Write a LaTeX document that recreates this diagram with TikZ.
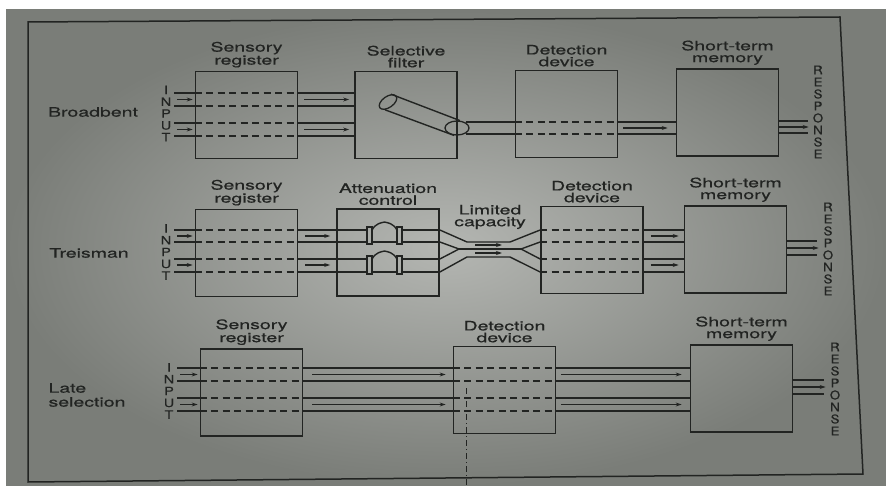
\documentclass[tikz,border=0pt]{standalone}
\usepackage{fontspec}
\setmainfont{TeX Gyre Heros}[FakeStretch=1.5,FakeBold=0.6]
\newfontfamily\inputfont{TeX Gyre Heros}[FakeStretch=1.25,FakeBold=0.6]
\newfontfamily\respfont{TeX Gyre Heros}[FakeStretch=1.1,FakeBold=0.6]
\usetikzlibrary{positioning,arrows.meta,shapes.geometric}

\definecolor{ink}{RGB}{34,36,34}
\definecolor{paperlight}{RGB}{180,182,178}
\definecolor{paperdark}{RGB}{122,125,120}

\tikzset{
  stage/.style={draw=ink, line width=1.7pt, minimum width=102pt, minimum height=87pt, inner sep=0pt},
  heading/.style={font=\fontsize{13}{11.8}\selectfont, align=center, text=ink, inner sep=1pt},
  side/.style={font=\fontsize{13}{14}\selectfont, align=left, text=ink},
  letters/.style={font=\inputfont\fontsize{11.5}{11.8}\selectfont, align=center, text=ink, inner sep=0pt},
  resp/.style={font=\respfont\fontsize{12}{12}\selectfont, align=center, text=ink, inner sep=0pt},
  lane/.style={draw=ink, line width=1.4pt},
  held/.style={draw=ink, line width=1.4pt, dash pattern=on 7pt off 4.5pt},
  flow/.style={draw=ink, line width=1.1pt, -{Stealth[length=6pt,width=4pt]}},
}

\begin{document}
\begin{tikzpicture}[x=1pt, y=-1pt]
  \useasboundingbox (0,0) rectangle (886,486);
  \fill[white] (0,0) rectangle (886,486);
  \shade[inner color=paperlight, outer color=paperdark] (6,10) rectangle (886,486);
  \coordinate (tl) at (28,22);
  \coordinate (tr) at (840,17);
  \coordinate (br) at (863,474);
  \coordinate (bl) at (28,482);
  \draw[ink, line width=1.5pt] (tl) -- (tr) -- (br) -- (bl) -- cycle;

  % Broadbent
  \node[side] (b-name) at (93,112) {Broadbent};
  \node[letters] (b-in) at (166,113.5) {I\\N\\P\\U\\T};
  \node[stage] (b-sr) at (246.5,115) {};
  \node[stage] (b-sf) at (406,115) {};
  \node[stage] (b-dd) at (566.5,114) {};
  \node[stage] (b-stm) at (727.5,112.5) {};
  \node[heading, above=2pt of b-sr] (b-sr-t) {Sensory\\register};
  \node[heading, above=2pt of b-sf] (b-sf-t) {Selective\\filter};
  \node[heading, above=2pt of b-dd] (b-dd-t) {Detection\\device};
  \node[heading, above=2pt of b-stm] (b-stm-t) {Short-term\\memory};
  \node[resp] (b-out) at (818,112) {R\\E\\S\\P\\O\\N\\S\\E};
  \foreach \y in {93,106,123,136} {
    \draw[lane] ([xshift=3pt]b-in.east |- 0,\y) -- (b-sr.west |- 0,\y);
    \draw[held] (b-sr.west |- 0,\y) -- (b-sr.east |- 0,\y);
    \draw[lane] (b-sr.east |- 0,\y) -- (b-sf.west |- 0,\y);
  }
  \foreach \y in {99.5,129.5} {
    \draw[flow] ([xshift=6pt]b-in.east |- 0,\y) -- ([xshift=-2pt]b-sr.west |- 0,\y);
    \draw[flow] ([xshift=6pt]b-sr.east |- 0,\y) -- ([xshift=-5pt]b-sf.west |- 0,\y);
  }
  \node[draw=ink, line width=1.3pt, ellipse, minimum width=20pt, minimum height=11pt,
        inner sep=0pt, rotate=35] (b-cap) at (388,102) {};
  \node[draw=ink, line width=1.3pt, ellipse, minimum width=24pt, minimum height=14pt,
        inner sep=0pt] (b-exit) at (457,128) {};
  \draw[lane] (b-cap.34) -- (b-exit.69);
  \draw[lane] (b-cap.-146) -- (b-exit.-111);
  \foreach \y in {122,134} {
    \draw[lane] ([xshift=-4pt]b-exit.east |- 0,\y) -- (b-dd.west |- 0,\y);
    \draw[held] (b-dd.west |- 0,\y) -- (b-dd.east |- 0,\y);
    \draw[lane] (b-dd.east |- 0,\y) -- (b-stm.west |- 0,\y);
  }
  \draw[flow] ([xshift=5pt]b-dd.east |- 0,128) -- ([xshift=-8pt]b-stm.west |- 0,128);
  \foreach \y in {121,133}
    \draw[lane] (b-stm.east |- 0,\y) -- ([xshift=-5pt]b-out.west |- 0,\y);
  \draw[flow] (b-stm.east |- 0,127) -- ([xshift=-4pt]b-out.west |- 0,127);

  % Treisman
  \node[side] (t-name) at (89,253) {Treisman};
  \node[letters] (t-in) at (166,252) {I\\N\\P\\U\\T};
  \node[stage] (t-sr) at (246.5,253) {};
  \node[stage] (t-ac) at (388,252.5) {};
  \node[stage] (t-dd) at (592,250) {};
  \node[stage] (t-stm) at (735.5,249.5) {};
  \node[heading, above=2pt of t-sr] (t-sr-t) {Sensory\\register};
  \node[heading, above=2pt of t-ac] (t-ac-t) {Attenuation\\control};
  \node[heading] (t-lc) at (490,217) {Limited\\capacity};
  \node[heading, above=2pt of t-dd] (t-dd-t) {Detection\\device};
  \node[heading, above=2pt of t-stm] (t-stm-t) {Short-term\\memory};
  \node[resp] (t-out) at (828,249) {R\\E\\S\\P\\O\\N\\S\\E};
  \foreach \y in {230,242,259,272} {
    \draw[lane] ([xshift=3pt]t-in.east |- 0,\y) -- (t-sr.west |- 0,\y);
    \draw[held] (t-sr.west |- 0,\y) -- (t-sr.east |- 0,\y);
    \draw[lane] (t-sr.east |- 0,\y) -- (t-ac.west |- 0,\y);
    \draw[held] (t-dd.west |- 0,\y) -- (t-dd.east |- 0,\y);
    \draw[lane] (t-dd.east |- 0,\y) -- (t-stm.west |- 0,\y);
  }
  \foreach \y in {236,265} {
    \draw[flow] ([xshift=6pt]t-in.east |- 0,\y) -- ([xshift=-2pt]t-sr.west |- 0,\y);
    \draw[flow] ([xshift=7pt]t-sr.east |- 0,\y) -- ([xshift=-6pt]t-ac.west |- 0,\y);
    \draw[flow] ([xshift=7pt]t-dd.east |- 0,\y) -- ([xshift=-5pt]t-stm.west |- 0,\y);
  }
  % valves
  \foreach \ya/\yb in {230/242,259/272} {
    \draw[lane] (t-ac.west |- 0,\ya) -- (367,\ya) (402,\ya) -- (t-ac.east |- 0,\ya);
    \draw[lane] (t-ac.west |- 0,\yb) -- (367,\yb) (372,\yb) -- (397,\yb) (402,\yb) -- (t-ac.east |- 0,\yb);
    \draw[ink, line width=1.2pt] (367,\ya-3) rectangle (372,\yb+2) (397,\ya-3) rectangle (402,\yb+2);
    \draw[lane] (372,\ya) .. controls (376,\ya-7) and (381,\ya-7) .. (384.5,\ya-8)
                          .. controls (388,\ya-7) and (393,\ya-7) .. (397,\ya);
  }
  % limited capacity channel
  \draw[lane] (t-ac.east |- 0,230) -- (467,242) -- (510,242) -- (t-dd.west |- 0,230);
  \draw[lane] (t-ac.east |- 0,242) -- (459,249) -- (t-ac.east |- 0,259);
  \draw[lane] (459,249) -- (521,249);
  \draw[lane] (t-dd.west |- 0,242) -- (521,249) -- (t-dd.west |- 0,259);
  \draw[lane] (t-ac.east |- 0,272) -- (467,257) -- (510,257) -- (t-dd.west |- 0,272);
  \draw[flow] (475,245) -- (502,245);
  \draw[flow] (475,253) -- (502,253);
  \foreach \y in {241,255}
    \draw[lane] (t-stm.east |- 0,\y) -- ([xshift=-6pt]t-out.west |- 0,\y);
  \draw[flow] (t-stm.east |- 0,248) -- ([xshift=-4pt]t-out.west |- 0,248);

  % Late selection
  \node[side, anchor=west] (l-name) at (45,395) {Late\\selection};
  \node[letters] (l-in) at (169,391) {I\\N\\P\\U\\T};
  \node[stage] (l-sr) at (251.5,392.5) {};
  \node[stage] (l-dd) at (504.5,390) {};
  \node[stage] (l-stm) at (741.5,388.5) {};
  \node[heading, above=2pt of l-sr] (l-sr-t) {Sensory\\register};
  \node[heading, above=2pt of l-dd] (l-dd-t) {Detection\\device};
  \node[heading, above=2pt of l-stm] (l-stm-t) {Short-term\\memory};
  \node[resp] (l-out) at (835,389) {R\\E\\S\\P\\O\\N\\S\\E};
  \foreach \y in {368,381,398,411} {
    \draw[lane] ([xshift=3pt]l-in.east |- 0,\y) -- (l-sr.west |- 0,\y);
    \draw[held] (l-sr.west |- 0,\y) -- (l-sr.east |- 0,\y);
    \draw[lane] (l-sr.east |- 0,\y) -- (l-dd.west |- 0,\y);
    \draw[held] (l-dd.west |- 0,\y) -- (l-dd.east |- 0,\y);
    \draw[lane] (l-dd.east |- 0,\y) -- (l-stm.west |- 0,\y);
  }
  \foreach \y in {374.5,404.5} {
    \draw[flow] ([xshift=6pt]l-in.east |- 0,\y) -- ([xshift=-2pt]l-sr.west |- 0,\y);
    \draw[flow] ([xshift=9pt]l-sr.east |- 0,\y) -- ([xshift=-7pt]l-dd.west |- 0,\y);
    \draw[flow] ([xshift=5pt]l-dd.east |- 0,\y) -- ([xshift=-8pt]l-stm.west |- 0,\y);
  }
  \foreach \y in {380,394}
    \draw[lane] (l-stm.east |- 0,\y) -- ([xshift=-6pt]l-out.west |- 0,\y);
  \draw[flow] (l-stm.east |- 0,387) -- ([xshift=-4pt]l-out.west |- 0,387);

  % crease in the page
  \draw[ink, line width=0.8pt, dash pattern=on 6pt off 3pt on 1pt off 3pt] (466,388) -- (466,486);
\end{tikzpicture}
\end{document}
